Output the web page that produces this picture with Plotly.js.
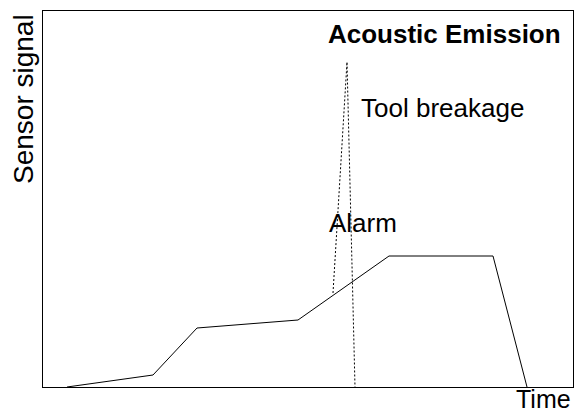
<!DOCTYPE html>
<html>
<head>
<meta charset="utf-8">
<script src="https://cdn.plot.ly/plotly-3.0.1.min.js"></script>
<style>html,body{margin:0;padding:0;background:#fff;}</style>
</head>
<body>
<div id="chart" style="width:581px;height:413px;"></div>
<script>
// Sensor signal (acoustic emission) over time, arbitrary units
const time = [24, 110, 154, 255, 346, 450, 484];
const signal = [0, 12, 59, 67, 131, 131, 0];
// Tool breakage spike (dashed)
const spikeTime = [290, 304, 312];
const spikeSignal = [94, 325, 0];

const font = "Liberation Sans, Arial, sans-serif";

const traces = [
  {x: time, y: signal, mode: 'lines', line: {color: 'black', width: 1}, hoverinfo: 'skip'},
  {x: spikeTime, y: spikeSignal, mode: 'lines', line: {color: 'black', width: 1, dash: '2px,2px'}, hoverinfo: 'skip'}
];

const layout = {
  width: 581, height: 413,
  margin: {l: 43, r: 8, t: 11, b: 26, pad: 0},
  paper_bgcolor: 'white', plot_bgcolor: 'white',
  showlegend: false,
  font: {family: font, color: 'black', size: 26},
  xaxis: {range: [0, 530], showgrid: false, zeroline: false, showticklabels: false, ticks: '',
          showline: true, mirror: true, linecolor: 'black', linewidth: 1, fixedrange: true},
  yaxis: {range: [0, 376], showgrid: false, zeroline: false, showticklabels: false, ticks: '',
          showline: true, mirror: true, linecolor: 'black', linewidth: 1, fixedrange: true},
  annotations: [
    {text: '<b>Acoustic Emission</b>', x: 401, y: 353, xref: 'x', yref: 'y', showarrow: false,
     xanchor: 'center', yanchor: 'middle', font: {family: font, size: 26, color: 'black'}},
    {text: 'Tool breakage', x: 399, y: 279, xref: 'x', yref: 'y', showarrow: false,
     xanchor: 'center', yanchor: 'middle', font: {family: font, size: 26, color: 'black'}},
    {text: 'Alarm', x: 319.5, y: 164, xref: 'x', yref: 'y', showarrow: false,
     xanchor: 'center', yanchor: 'middle', font: {family: font, size: 26, color: 'black'}},
    {text: 'Time', x: 1, y: 0, xref: 'paper', yref: 'paper', showarrow: false,
     xanchor: 'right', yanchor: 'middle', yshift: -12, font: {family: font, size: 25, color: 'black'}},
    {text: 'Sensor signal', x: -0.0358, y: 0.766, xref: 'paper', yref: 'paper', showarrow: false,
     textangle: -90, xanchor: 'center', yanchor: 'middle', font: {family: font, size: 28, color: 'black'}}
  ]
};

Plotly.newPlot('chart', traces, layout, {staticPlot: true, displayModeBar: false});
</script>
</body>
</html>
